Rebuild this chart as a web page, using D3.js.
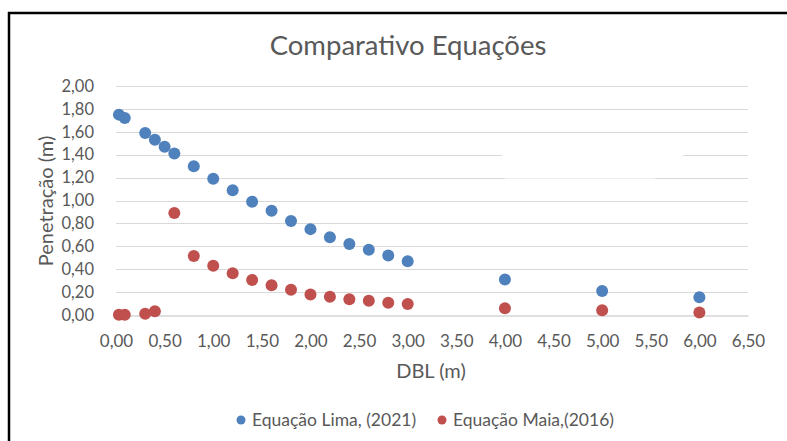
<!DOCTYPE html>
<html>
<head>
<meta charset="utf-8">
<script src="https://cdn.jsdelivr.net/npm/d3@7"></script>
<style>
  html, body { margin: 0; padding: 0; background: #fff; }
  svg { display: block; }
  text { font-family: Lato, "Open Sans", sans-serif; fill: #595959; }
</style>
</head>
<body>
<svg id="chart" width="787" height="441"></svg>
<script>
// DBL (m) values and penetration (m) for each equation
const limaX = [0.03, 0.09, 0.3, 0.4, 0.5, 0.6, 0.8, 1.0, 1.2, 1.4, 1.6, 1.8, 2.0, 2.2, 2.4, 2.6, 2.8, 3.0, 4.0, 5.0, 6.0];
const limaY = [1.75, 1.72, 1.59, 1.53, 1.47, 1.41, 1.30, 1.19, 1.09, 0.99, 0.91, 0.82, 0.75, 0.68, 0.62, 0.57, 0.52, 0.47, 0.31, 0.21, 0.155];
const maiaX = [0.03, 0.09, 0.3, 0.4, 0.6, 0.8, 1.0, 1.2, 1.4, 1.6, 1.8, 2.0, 2.2, 2.4, 2.6, 2.8, 3.0, 4.0, 5.0, 6.0];
const maiaY = [0.003, 0.003, 0.01, 0.032, 0.89, 0.515, 0.43, 0.365, 0.306, 0.26, 0.22, 0.18, 0.16, 0.137, 0.125, 0.108, 0.096, 0.058, 0.041, 0.022];

const xTicks = d3.range(0, 6.51, 0.5);
const yTicks = d3.range(0, 2.01, 0.2);

const seriesNames = ["Equação Lima, (2021)", "Equação Maia,(2016)"];
const seriesColors = ["#4F81BD", "#C0504D"];

const fmt = v => d3.format(".2f")(v).replace(".", ",");
const FONT = "Lato, 'Open Sans', sans-serif";

const svg = d3.select("#chart");

// frame lines (top and left)
svg.append("line").attr("x1", 8).attr("x2", 787).attr("y1", 13).attr("y2", 13)
  .attr("stroke", "#000").attr("stroke-width", 2.5);
svg.append("line").attr("x1", 9).attr("x2", 9).attr("y1", 12).attr("y2", 441)
  .attr("stroke", "#000").attr("stroke-width", 2.5);

const x = d3.scaleLinear().domain([0, 6.5]).range([116, 748]);
const y = d3.scaleLinear().domain([0, 2]).range([315, 86]);

// horizontal gridlines
svg.append("g")
  .selectAll("line")
  .data(yTicks.filter(v => v > 0.001))
  .join("line")
  .attr("x1", x(0)).attr("x2", x(6.5))
  .attr("y1", d => Math.round(y(d)) + 0.5).attr("y2", d => Math.round(y(d)) + 0.5)
  .attr("stroke", "#d9d9d9").attr("stroke-width", 1);

// white patch over part of the 1,40 and 1,20 gridlines
svg.append("rect").attr("x", 502).attr("y", 150).attr("width", 181).attr("height", 9).attr("fill", "#fff");
svg.append("rect").attr("x", 505).attr("y", 174).attr("width", 150).attr("height", 5).attr("fill", "#fff").attr("opacity", 0.55);

// y axis labels
const yAxis = d3.axisLeft(y).tickValues(yTicks).tickFormat(fmt).tickSize(0).tickPadding(0);
const gy = svg.append("g").attr("transform", "translate(94,0)").call(yAxis);
gy.select(".domain").remove();
gy.selectAll("text").attr("font-size", 16.5).attr("fill", "#595959").style("font-family", FONT);

// x axis
const xAxis = d3.axisBottom(x).tickValues(xTicks).tickFormat(fmt).tickSize(0).tickPadding(19);
const gx = svg.append("g").attr("transform", `translate(0,${Math.round(y(0)) + 0.5})`).call(xAxis);
gx.select(".domain").attr("stroke", "#bfbfbf");
gx.selectAll("text").attr("font-size", 17).attr("fill", "#595959").style("font-family", FONT);

// points
const series = [
  { xs: limaX, ys: limaY, color: seriesColors[0] },
  { xs: maiaX, ys: maiaY, color: seriesColors[1] }
];
series.forEach(s => {
  svg.append("g")
    .selectAll("circle")
    .data(s.xs.map((v, i) => [v, s.ys[i]]))
    .join("circle")
    .attr("cx", d => x(d[0]))
    .attr("cy", d => y(d[1]))
    .attr("r", 6)
    .attr("fill", s.color);
});

// title
svg.append("text").attr("x", 408).attr("y", 55).attr("text-anchor", "middle")
  .attr("font-size", 27.5).text("Comparativo Equações");

// axis titles
svg.append("text").attr("x", 431).attr("y", 378).attr("text-anchor", "middle")
  .attr("font-size", 20).text("DBL (m)");
svg.append("text").attr("transform", "translate(53,201) rotate(-90)").attr("text-anchor", "middle")
  .attr("font-size", 20).text("Penetração (m)");

// legend
const legendX = [241, 442];
seriesNames.forEach((name, i) => {
  svg.append("circle").attr("cx", legendX[i]).attr("cy", 420).attr("r", 4.5).attr("fill", seriesColors[i]);
  svg.append("text").attr("x", legendX[i] + 11).attr("y", 426).attr("font-size", 17.5).text(name);
});
</script>
</body>
</html>
